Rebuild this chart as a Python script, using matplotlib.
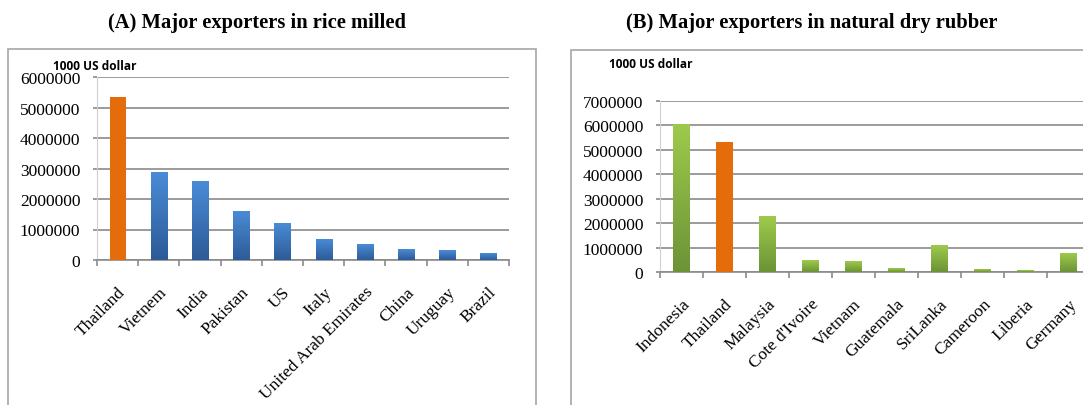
import numpy as np
import matplotlib
matplotlib.use("Agg")
import matplotlib.pyplot as plt
from matplotlib.colors import LinearSegmentedColormap
from matplotlib.patches import Rectangle

# rice milled exports, 1000 US dollar
rice_countries = ["Thailand", "Vietnem", "India", "Pakistan", "US", "Italy",
                  "United Arab Emirates", "China", "Uruguay", "Brazil"]
rice_values = [5330000, 2880000, 2570000, 1600000, 1200000, 660000,
               500000, 360000, 310000, 210000]

# natural dry rubber exports, 1000 US dollar
rubber_countries = ["Indonesia", "Thailand", "Malaysia", "Cote d'Ivoire", "Vietnam",
                    "Guatemala", "SriLanka", "Cameroon", "Liberia", "Germany"]
rubber_values = [6020000, 5310000, 2280000, 490000, 440000,
                 150000, 1080000, 90000, 80000, 770000]

W, H = 1083, 406
fig = plt.figure(figsize=(W / 100, H / 100), dpi=100)

serif = ["Liberation Serif", "DejaVu Serif"]
ORANGE = "#e46c0a"
blue_cmap = LinearSegmentedColormap.from_list("blue", ["#2d5b97", "#4a8bd6"])
green_cmap = LinearSegmentedColormap.from_list("green", ["#6c9336", "#9dca4c"])
ramp = np.linspace(0, 1, 64).reshape(-1, 1)


def px_axes(x0, x1, y_top, y_bot):
    return fig.add_axes([x0 / W, 1 - y_bot / H, (x1 - x0) / W, (y_bot - y_top) / H])


def frame(x0, x1, y_top, y_bot):
    fig.patches.append(Rectangle((x0 / W, 1 - y_bot / H), (x1 - x0) / W, (y_bot - y_top) / H,
                                 transform=fig.transFigure, fill=False,
                                 edgecolor="#a6a6a6", linewidth=1.2))


def bar_panel(ax, names, values, cmap, ymax, step):
    x = np.arange(len(names))
    width = 0.39
    for xi, v, name in zip(x, values, names):
        if name == "Thailand":
            ax.bar(xi, v, width=width, color=ORANGE, zorder=3)
        else:
            ax.imshow(ramp, cmap=cmap, origin="lower", aspect="auto", zorder=3,
                      extent=[xi - width / 2, xi + width / 2, 0, v])
    ax.set_xlim(-0.5, len(names) - 0.5)
    ax.set_ylim(0, ymax)
    ax.set_yticks(np.arange(0, ymax + 1, step))
    ax.set_yticklabels([str(int(t)) for t in np.arange(0, ymax + 1, step)],
                       family=serif, fontsize=12.5)
    ax.yaxis.grid(True, color="#8a8a8a", linewidth=1.2, zorder=0)
    ax.set_axisbelow(True)
    ax.set_xticks(np.arange(-0.5, len(names), 1.0))
    ax.set_xticklabels([])
    ax.set_xticks(x, minor=True)
    ax.set_xticklabels(names, minor=True, rotation=45, ha="right",
                       rotation_mode="anchor", family=serif, fontsize=12.5)
    ax.tick_params(axis="x", which="major", direction="out", length=4,
                   color="#8a8a8a", width=1.2)
    ax.tick_params(axis="x", which="minor", length=0, pad=17)
    ax.tick_params(axis="y", direction="out", length=3, color="#8a8a8a",
                   width=1.2, pad=9)
    for side in ("top", "right"):
        ax.spines[side].set_visible(False)
    ax.spines["bottom"].set_color("#8a8a8a")
    ax.spines["bottom"].set_linewidth(1.2)
    ax.spines["left"].set_color("#d0d0d0")
    ax.spines["left"].set_linewidth(0.8)
    ax.patch.set_alpha(0)


# panel A
frame(8, 536, 50, 420)
ax_a = px_axes(97, 509, 78, 261)
bar_panel(ax_a, rice_countries, rice_values, blue_cmap, 6000000, 1000000)
fig.text(257 / W, 1 - 23 / H, "(A) Major exporters in rice milled", ha="center",
         va="center", family=serif, fontweight="bold", fontsize=14.8)
fig.text(53 / W, 1 - 66 / H, "1000 US dollar", ha="left", va="center",
         family="Open Sans", fontweight="bold", fontsize=8.6)

# panel B
frame(571, 1100, 51, 420)
ax_b = px_axes(660, 1090, 102, 273)
bar_panel(ax_b, rubber_countries, rubber_values, green_cmap, 7000000, 1000000)
fig.text(812 / W, 1 - 23 / H, "(B) Major exporters in natural dry rubber", ha="center",
         va="center", family=serif, fontweight="bold", fontsize=14.8)
fig.text(609 / W, 1 - 65 / H, "1000 US dollar", ha="left", va="center",
         family="Open Sans", fontweight="bold", fontsize=8.6)

fig.savefig("out.png", dpi=100)
